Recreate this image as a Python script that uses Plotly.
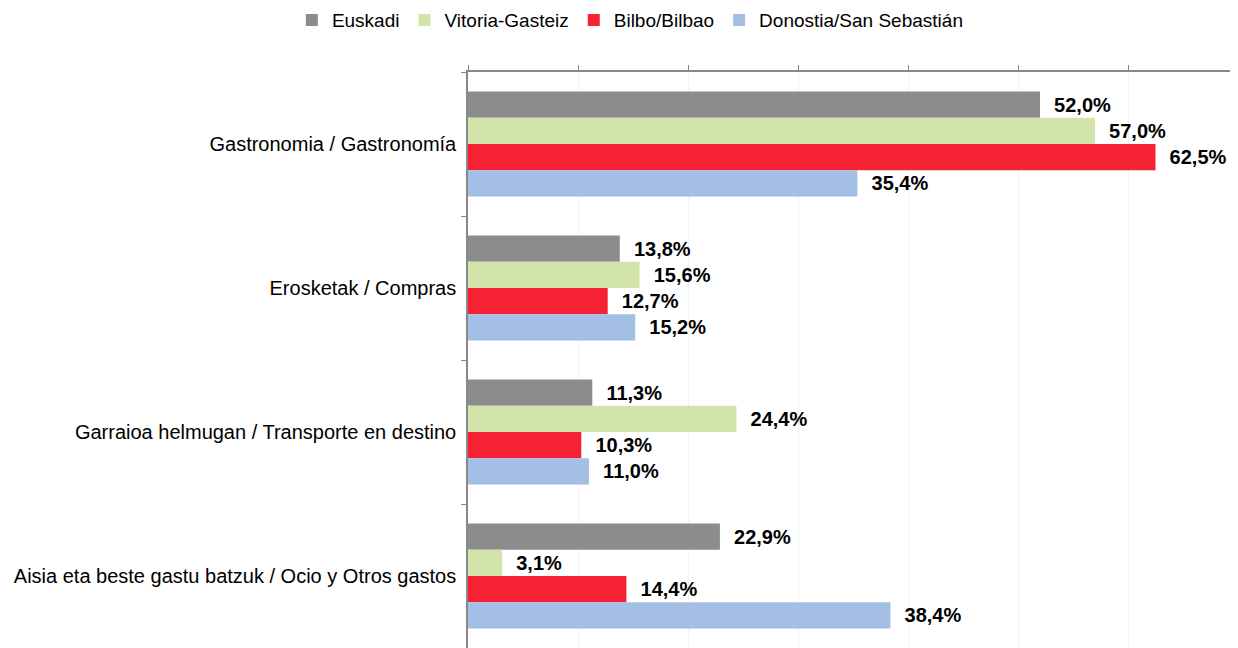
import plotly.graph_objects as go

categories = [
    "Gastronomia / Gastronomía",
    "Erosketak / Compras",
    "Garraioa helmugan / Transporte en destino",
    "Aisia eta beste gastu batzuk / Ocio y Otros gastos",
]
series_names = ["Euskadi", "Vitoria-Gasteiz", "Bilbo/Bilbao", "Donostia/San Sebastián"]
euskadi = [52.0, 13.8, 11.3, 22.9]
vitoria = [57.0, 15.6, 24.4, 3.1]
bilbao = [62.5, 12.7, 10.3, 14.4]
donostia = [35.4, 15.2, 11.0, 38.4]
colors = ["#8c8c8c", "#d2e4a9", "#f42233", "#a3bfe6"]

FONT = "Liberation Sans, Arial, sans-serif"

fig = go.Figure()
for name, vals, col in zip(series_names, [euskadi, vitoria, bilbao, donostia], colors):
    fig.add_trace(go.Bar(
        y=categories, x=vals, name=name, orientation="h",
        marker=dict(color=col, line=dict(width=0)),
        text=["  " + f"{v:.1f}".replace(".", ",") + "%" for v in vals],
        textposition="outside",
        textfont=dict(family=FONT, size=20, color="#000000", weight="bold"),
        cliponaxis=False,
    ))

# body has an 8px margin in the page, so the figure is offset by 8px
fig.update_layout(
    width=1230, height=640,
    barmode="group", bargap=0.27, bargroupgap=0,
    plot_bgcolor="white", paper_bgcolor="white",
    margin=dict(l=460, r=0, t=64, b=0),
    font=dict(family=FONT, size=20, color="#000000"),
    showlegend=True,
    legend=dict(
        orientation="h", xref="container", yref="container",
        x=0.506, y=0.981, xanchor="center", yanchor="middle",
        font=dict(family=FONT, size=19, color="#000000"),
        traceorder="normal", itemwidth=30,
    ),
    xaxis=dict(
        side="top", range=[0, 70], dtick=10, showticklabels=False,
        ticks="outside", ticklen=5, tickcolor="#888888",
        showline=True, linecolor="#888888", linewidth=1.5,
        showgrid=True, gridcolor="#f2f2f2", zeroline=False,
    ),
    yaxis=dict(
        autorange="reversed", tickson="boundaries",
        ticks="outside", ticklen=5, tickcolor="#888888",
        showline=True, linecolor="#888888", linewidth=1.5,
        showgrid=False, ticklabelstandoff=6,
        tickfont=dict(family=FONT, size=20, color="#000000"),
    ),
)

fig.write_html("out.html")
